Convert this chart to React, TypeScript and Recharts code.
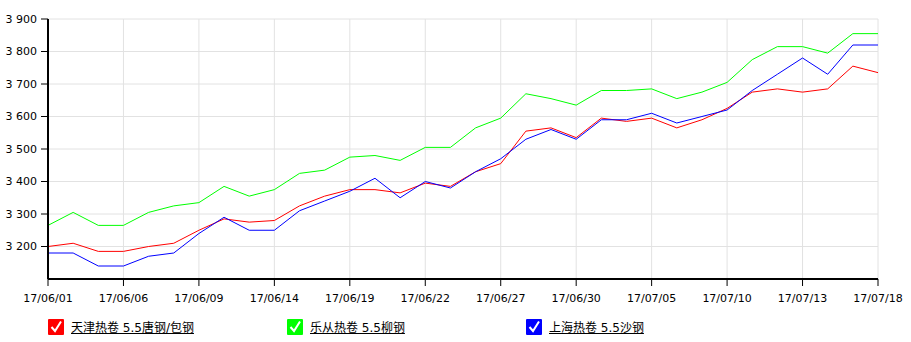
import { LineChart, Line, XAxis, YAxis, CartesianGrid } from 'recharts'

const dates = [
  '17/06/01', '17/06/02', '17/06/05', '17/06/06', '17/06/07', '17/06/08', '17/06/09',
  '17/06/12', '17/06/13', '17/06/14', '17/06/15', '17/06/16', '17/06/19', '17/06/20',
  '17/06/21', '17/06/22', '17/06/23', '17/06/26', '17/06/27', '17/06/28', '17/06/29',
  '17/06/30', '17/07/03', '17/07/04', '17/07/05', '17/07/06', '17/07/07', '17/07/10',
  '17/07/11', '17/07/12', '17/07/13', '17/07/14', '17/07/17', '17/07/18',
]

const tianjin = [
  3200, 3210, 3185, 3185, 3200, 3210, 3250, 3285, 3275, 3280, 3325, 3355, 3375, 3375,
  3365, 3395, 3385, 3430, 3455, 3555, 3565, 3535, 3595, 3585, 3595, 3565, 3590, 3625,
  3675, 3685, 3675, 3685, 3755, 3735,
]

const lecong = [
  3265, 3305, 3265, 3265, 3305, 3325, 3335, 3385, 3355, 3375, 3425, 3435, 3475, 3480,
  3465, 3505, 3505, 3565, 3595, 3670, 3655, 3635, 3680, 3680, 3685, 3655, 3675, 3705,
  3775, 3815, 3815, 3795, 3855, 3855,
]

const shanghai = [
  3180, 3180, 3140, 3140, 3170, 3180, 3240, 3290, 3250, 3250, 3310, 3340, 3370, 3410,
  3350, 3400, 3380, 3430, 3470, 3530, 3560, 3530, 3590, 3590, 3610, 3580, 3600, 3620,
  3680, 3730, 3780, 3730, 3820, 3820,
]

const yTicks = [3200, 3300, 3400, 3500, 3600, 3700, 3800, 3900]

const series = [
  { key: 'tianjin', name: '天津热卷 5.5唐钢/包钢', color: '#ff0000' },
  { key: 'lecong', name: '乐从热卷 5.5柳钢', color: '#00ff00' },
  { key: 'shanghai', name: '上海热卷 5.5沙钢', color: '#0000ff' },
]

const data = dates.map((d, i) => ({
  date: d,
  tianjin: tianjin[i],
  lecong: lecong[i],
  shanghai: shanghai[i],
}))

const fmt = (v: number) => {
  const s = String(v)
  return s.length > 3 ? s.slice(0, s.length - 3) + ' ' + s.slice(-3) : s
}

const tickStyle = { fontFamily: 'DejaVu Sans, sans-serif', fontSize: 11, fill: '#000' }

function CheckBox({ color }: { color: string }) {
  return (
    <svg width={16} height={16} style={{ display: 'block' }}>
      <rect x={0} y={0} width={16} height={16} rx={1} fill={color} />
      <path d="M3.5 8 L7 12 L13 2.5" stroke="#fff" strokeWidth={2} fill="none" />
    </svg>
  )
}

export default function App() {
  return (
    <div style={{ position: 'absolute', left: 0, top: 0, width: 911, height: 342, background: '#fff' }}>
      <LineChart width={911} height={342} data={data} margin={{ top: 19, right: 33, bottom: 0, left: 0 }}>
        <CartesianGrid stroke="#e2e2e2" />
        <XAxis
          dataKey="date"
          interval={2}
          height={63}
          tick={tickStyle}
          tickSize={7}
          tickMargin={8}
          axisLine={{ stroke: '#000', strokeWidth: 2 }}
          tickLine={{ stroke: '#000' }}
        />
        <YAxis
          domain={[3100, 3900]}
          ticks={yTicks}
          width={48}
          tick={tickStyle}
          tickFormatter={fmt}
          tickSize={7}
          tickMargin={4}
          axisLine={{ stroke: '#000', strokeWidth: 2 }}
          tickLine={{ stroke: '#000' }}
        />
        {series.map((s) => (
          <Line
            key={s.key}
            dataKey={s.key}
            name={s.name}
            stroke={s.color}
            strokeWidth={1}
            dot={false}
            activeDot={false}
            type="linear"
            isAnimationActive={false}
          />
        ))}
      </LineChart>
      {series.map((s, i) => (
        <div
          key={s.key}
          style={{
            position: 'absolute',
            left: 48 + i * 239,
            top: 318,
            display: 'flex',
            alignItems: 'center',
            gap: 7,
            fontFamily: 'DejaVu Sans, "Noto Sans CJK SC", sans-serif',
            fontSize: 12,
            color: '#000',
          }}
        >
          <CheckBox color={s.color} />
          <span style={{ textDecoration: 'underline' }}>{s.name}</span>
        </div>
      ))}
    </div>
  )
}
